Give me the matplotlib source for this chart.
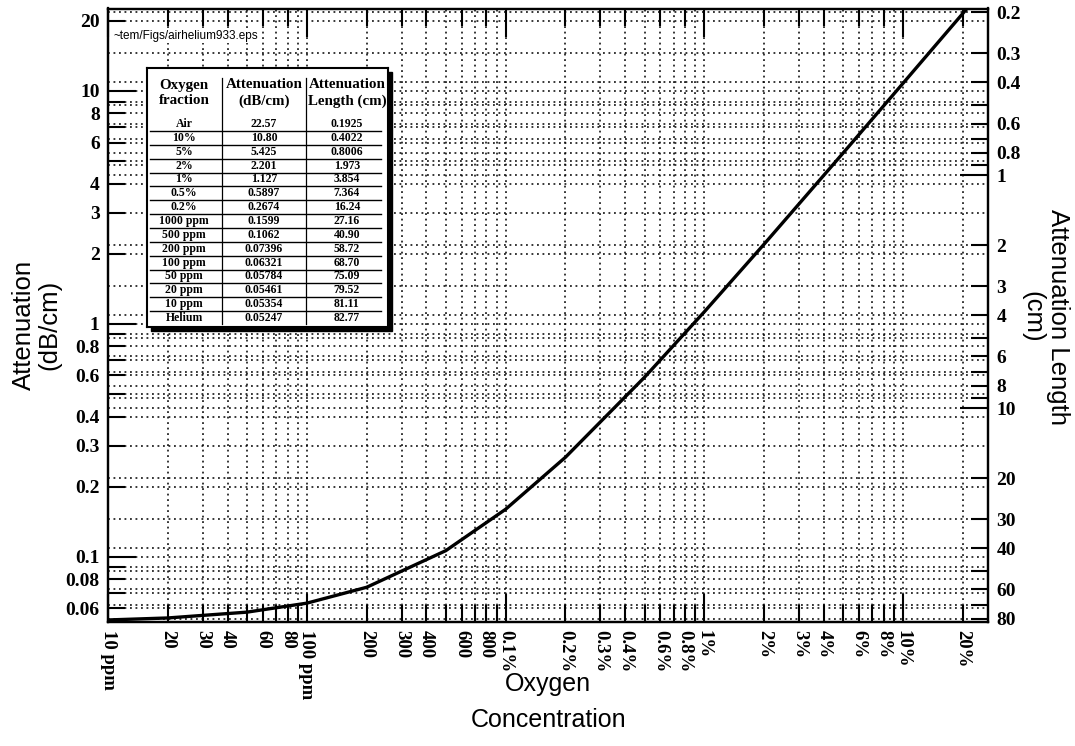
import numpy as np
import matplotlib
matplotlib.use("Agg")
import matplotlib.pyplot as plt
from matplotlib.patches import Rectangle
from matplotlib.ticker import NullFormatter

# table values (oxygen in helium)
o2_names = ["Air", "10%", "5%", "2%", "1%", "0.5%", "0.2%", "1000 ppm", "500 ppm",
            "200 ppm", "100 ppm", "50 ppm", "20 ppm", "10 ppm", "Helium"]
o2_frac = [0.2095, 0.10, 0.05, 0.02, 0.01, 0.005, 0.002, 1e-3, 5e-4,
           2e-4, 1e-4, 5e-5, 2e-5, 1e-5, 0.0]
atten = [22.57, 10.80, 5.425, 2.201, 1.127, 0.5897, 0.2674, 0.1599, 0.1062,
         0.07396, 0.06321, 0.05784, 0.05461, 0.05354, 0.05247]
att_len = [0.1925, 0.4022, 0.8006, 1.973, 3.854, 7.364, 16.24, 27.16, 40.90,
           58.72, 68.70, 75.09, 79.52, 81.11, 82.77]

# axis ticks
x_major = [1e-5, 2e-5, 3e-5, 4e-5, 6e-5, 8e-5, 1e-4, 2e-4, 3e-4, 4e-4, 6e-4, 8e-4,
           1e-3, 2e-3, 3e-3, 4e-3, 6e-3, 8e-3, 1e-2, 2e-2, 3e-2, 4e-2, 6e-2, 8e-2, 0.1, 0.2]
x_labels = ["10 ppm", "20", "30", "40", "60", "80", "100 ppm", "200", "300", "400", "600", "800",
            "0.1%", "0.2%", "0.3%", "0.4%", "0.6%", "0.8%", "1%", "2%", "3%", "4%",
            "6%", "8%", "10%", "20%"]
x_minor = [5e-5, 7e-5, 9e-5, 5e-4, 7e-4, 9e-4, 5e-3, 7e-3, 9e-3, 5e-2, 7e-2, 9e-2]
y_major = [20, 10, 8, 6, 4, 3, 2, 1, 0.8, 0.6, 0.4, 0.3, 0.2, 0.1, 0.08, 0.06]
y_minor = [9, 7, 5, 0.9, 0.7, 0.5, 0.09, 0.07]
r_major = [0.2, 0.3, 0.4, 0.6, 0.8, 1, 2, 3, 4, 6, 8, 10, 20, 30, 40, 60, 80]
r_minor = [0.5, 0.7, 0.9, 5, 7, 9, 50, 70]

plt.rcParams['font.family'] = ['Liberation Serif', 'DejaVu Serif']
plt.rcParams['font.weight'] = 'bold'

fig = plt.figure(figsize=(10.75, 7.46), dpi=100)
ax = fig.add_axes([108 / 1075, 1 - 622 / 746, 880 / 1075, 613.5 / 746])

ax.plot(o2_frac[:-1], atten[:-1], color='k', lw=2.4, zorder=3)
ax.set_xscale('log')
ax.set_yscale('log')
ax.set_xlim(1e-5, 0.267)
ax.set_ylim(atten[-1], atten[0])

dots = (0, (1.2, 2.4))
ax.set_xticks(x_major, x_labels, rotation=-90, fontsize=13.5)
ax.set_xticks(x_minor, minor=True)
ax.xaxis.set_minor_formatter(NullFormatter())
ax.set_yticks(y_major, ['%g' % v for v in y_major])
ax.set_yticks(y_minor, minor=True)
ax.yaxis.set_minor_formatter(NullFormatter())
ax.grid(True, which='both', color='k', linestyle=dots, linewidth=1.1)
ax.tick_params(which='both', direction='in', length=12, width=1.5, pad=6)
ax.tick_params(axis='y', labelsize=14)
ax.tick_params(axis='x', top=True)
for s in ax.spines.values():
    s.set_linewidth(1.6)

tw = ax.twinx()
tw.set_yscale('log')
tw.set_ylim(att_len[-1], att_len[0])
tw.set_yticks(r_major, ['%g' % v for v in r_major])
tw.set_yticks(r_minor, minor=True)
tw.yaxis.set_minor_formatter(NullFormatter())
tw.grid(True, axis='y', which='both', color='k', linestyle=dots, linewidth=1.1)
tw.tick_params(which='both', direction='in', length=12, width=1.5, labelsize=14, pad=6)
for s in tw.spines.values():
    s.set_linewidth(1.6)

# longer ticks on decades
def is_decade(v):
    return abs(np.log10(v) - round(np.log10(v))) < 1e-9

for t, v in zip(ax.xaxis.get_major_ticks(), x_major):
    if is_decade(v):
        t.tick1line.set_markersize(20)
        t.tick2line.set_markersize(20)
for t, v in zip(ax.yaxis.get_major_ticks(), y_major):
    if is_decade(v):
        t.tick1line.set_markersize(20)
for t, v in zip(tw.yaxis.get_major_ticks(), r_major):
    if is_decade(v):
        t.tick2line.set_markersize(20)

# axis titles
sans = ['Liberation Sans', 'DejaVu Sans']
fig.text(0.034, 0.565, "Attenuation\n(dB/cm)", rotation=90, ha='center', va='center',
         fontsize=18.5, family=sans, fontweight='normal', linespacing=1.1)
fig.text(0.972, 0.575, "Attenuation Length\n(cm)", rotation=-90, ha='center', va='center',
         fontsize=18.5, family=sans, fontweight='normal', linespacing=1.1)
fig.text(0.51, 0.059, "Oxygen\nConcentration", ha='center', va='center',
         fontsize=18, family=sans, fontweight='normal', linespacing=1.6)
fig.text(113 / 1075, 1 - 36 / 746, "~tem/Figs/airhelium933.eps", ha='left', va='center',
         fontsize=8.5, family=sans, fontweight='normal', zorder=5,
         bbox=dict(facecolor='white', edgecolor='none', pad=1))

# inset table
tx0, ty0, tw_px, th_px = 147, 68, 241, 259
shadow = Rectangle(((tx0 + 4) / 1075, 1 - (ty0 + th_px + 4) / 746), tw_px / 1075, th_px / 746,
                   transform=fig.transFigure, facecolor='k', edgecolor='k', zorder=1.5)
fig.patches.append(shadow)
tab = fig.add_axes([tx0 / 1075, 1 - (ty0 + th_px) / 746, tw_px / 1075, th_px / 746], zorder=2)
tab.set_facecolor('white')
tab.set_xlim(0, tw_px)
tab.set_ylim(th_px, 0)
tab.set_xticks([])
tab.set_yticks([])
for s in tab.spines.values():
    s.set_linewidth(1.5)

col_x = [37, 117, 200]
headers = ["Oxygen\nfraction", "Attenuation\n(dB/cm)", "Attenuation\nLength (cm)"]
for cx, h in zip(col_x, headers):
    tab.text(cx, 25, h, ha='center', va='center', fontsize=10.8, linespacing=1.3)
for xs in [75, 159]:
    tab.plot([xs, xs], [10, 256], color='k', lw=0.9)

row_step = 13.86
for i, (nm, a, ln) in enumerate(zip(o2_names, atten, att_len)):
    y = 56 + i * row_step
    a_txt = np.format_float_positional(a, precision=4, unique=False, fractional=False, trim='k')
    l_txt = np.format_float_positional(ln, precision=4, unique=False, fractional=False, trim='k')
    tab.text(col_x[0], y, nm, ha='center', va='center', fontsize=8.5)
    tab.text(col_x[1], y, a_txt, ha='center', va='center', fontsize=8.5)
    tab.text(col_x[2], y, l_txt, ha='center', va='center', fontsize=8.5)
    if i < len(o2_names) - 1:
        tab.plot([3, 234], [y + 7, y + 7], color='k', lw=1.0)

fig.savefig("out.png", dpi=100)
